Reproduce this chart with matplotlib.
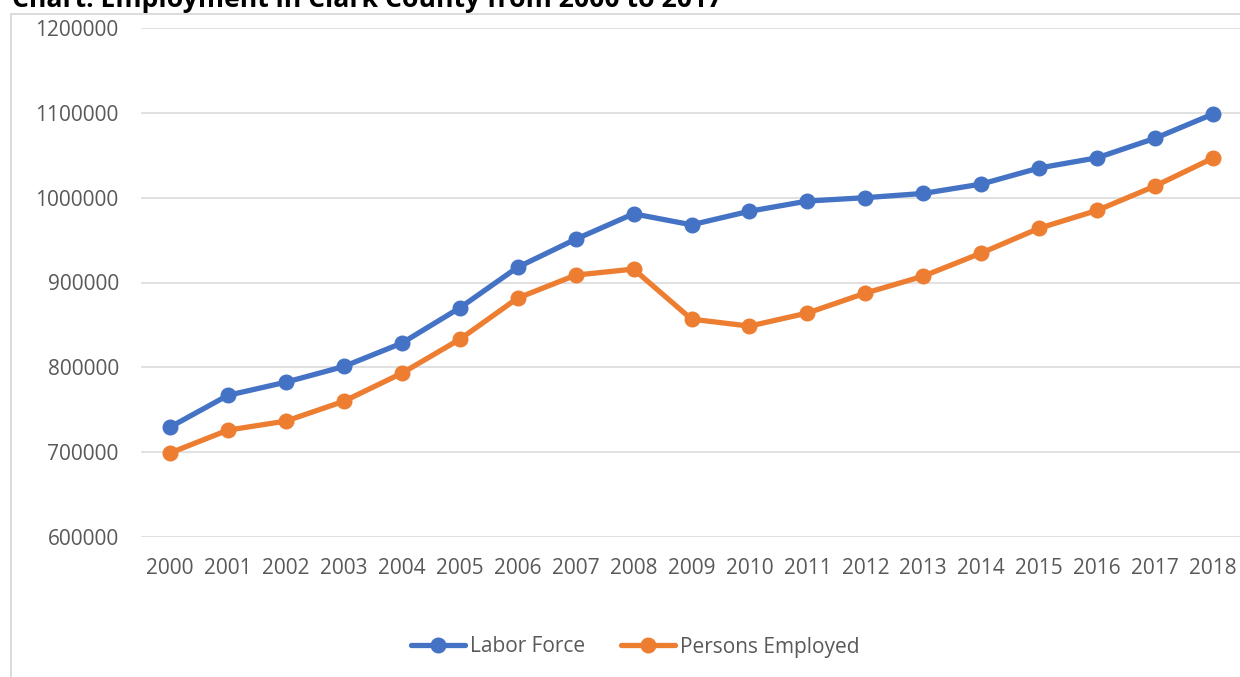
import matplotlib.pyplot as plt
from matplotlib.patches import Rectangle

# Datos
years = [str(y) for y in range(2000, 2019)]
labor_force = [729500, 767000, 782500, 801000, 828500, 870000, 918000, 951000, 981000,
               968000, 984000, 996000, 1000000, 1005000, 1016000, 1035000, 1047000,
               1070000, 1098600]
persons_employed = [699000, 726000, 736600, 760000, 793000, 833000, 881600, 908700,
                    915800, 856800, 848600, 864000, 887500, 907500, 934700, 964000,
                    985000, 1013700, 1046700]
y_ticks = [600000, 700000, 800000, 900000, 1000000, 1100000, 1200000]

plt.rcParams['font.family'] = ['Open Sans', 'DejaVu Sans']

W, H = 1240, 677
fig = plt.figure(figsize=(W / 100, H / 100), dpi=100)

# marco del area del grafico
fig.patches.append(Rectangle((11 / W, -0.1), 1.2, 1 - 13.5 / H + 0.1,
                             transform=fig.transFigure, fill=False,
                             edgecolor='#D9D9D9', linewidth=1.3))

ax = fig.add_axes([141 / W, 1 - 537 / H, (1242 - 141) / W, (537 - 28) / H])
x = range(len(years))
ax.plot(x, labor_force, color='#4472C4', lw=3.8, marker='o', ms=10.5,
        label='Labor Force', solid_capstyle='round', zorder=3)
ax.plot(x, persons_employed, color='#ED7D31', lw=3.8, marker='o', ms=10.5,
        label='Persons Employed', solid_capstyle='round', zorder=3)

ax.set_xlim(-0.5, len(years) - 0.5)
ax.set_ylim(600000, 1200000)
ax.set_xticks(list(x))
ax.set_xticklabels(years)
ax.set_yticks(y_ticks)
ax.set_yticklabels([str(v) for v in y_ticks])
ax.grid(axis='y', color='#D9D9D9', linewidth=1.1)
ax.set_axisbelow(True)
for s in ax.spines.values():
    s.set_visible(False)
ax.tick_params(length=0, labelsize=15, labelcolor='#595959')
ax.tick_params(axis='y', pad=16)
ax.tick_params(axis='x', pad=15)

fig.text(12 / W, 1 - 7 / H, 'Chart: Employment in Clark County from 2000 to 2017',
         fontsize=19.2, fontweight='bold', va='baseline', ha='left', color='black')

leg = fig.legend(loc='center', bbox_to_anchor=(635 / W, 1 - 647 / H), ncol=2,
                 frameon=False, fontsize=15, handlelength=2.6, handletextpad=0.25,
                 columnspacing=1.7)
for t in leg.get_texts():
    t.set_color('#595959')

fig.savefig('out.png', dpi=100)
